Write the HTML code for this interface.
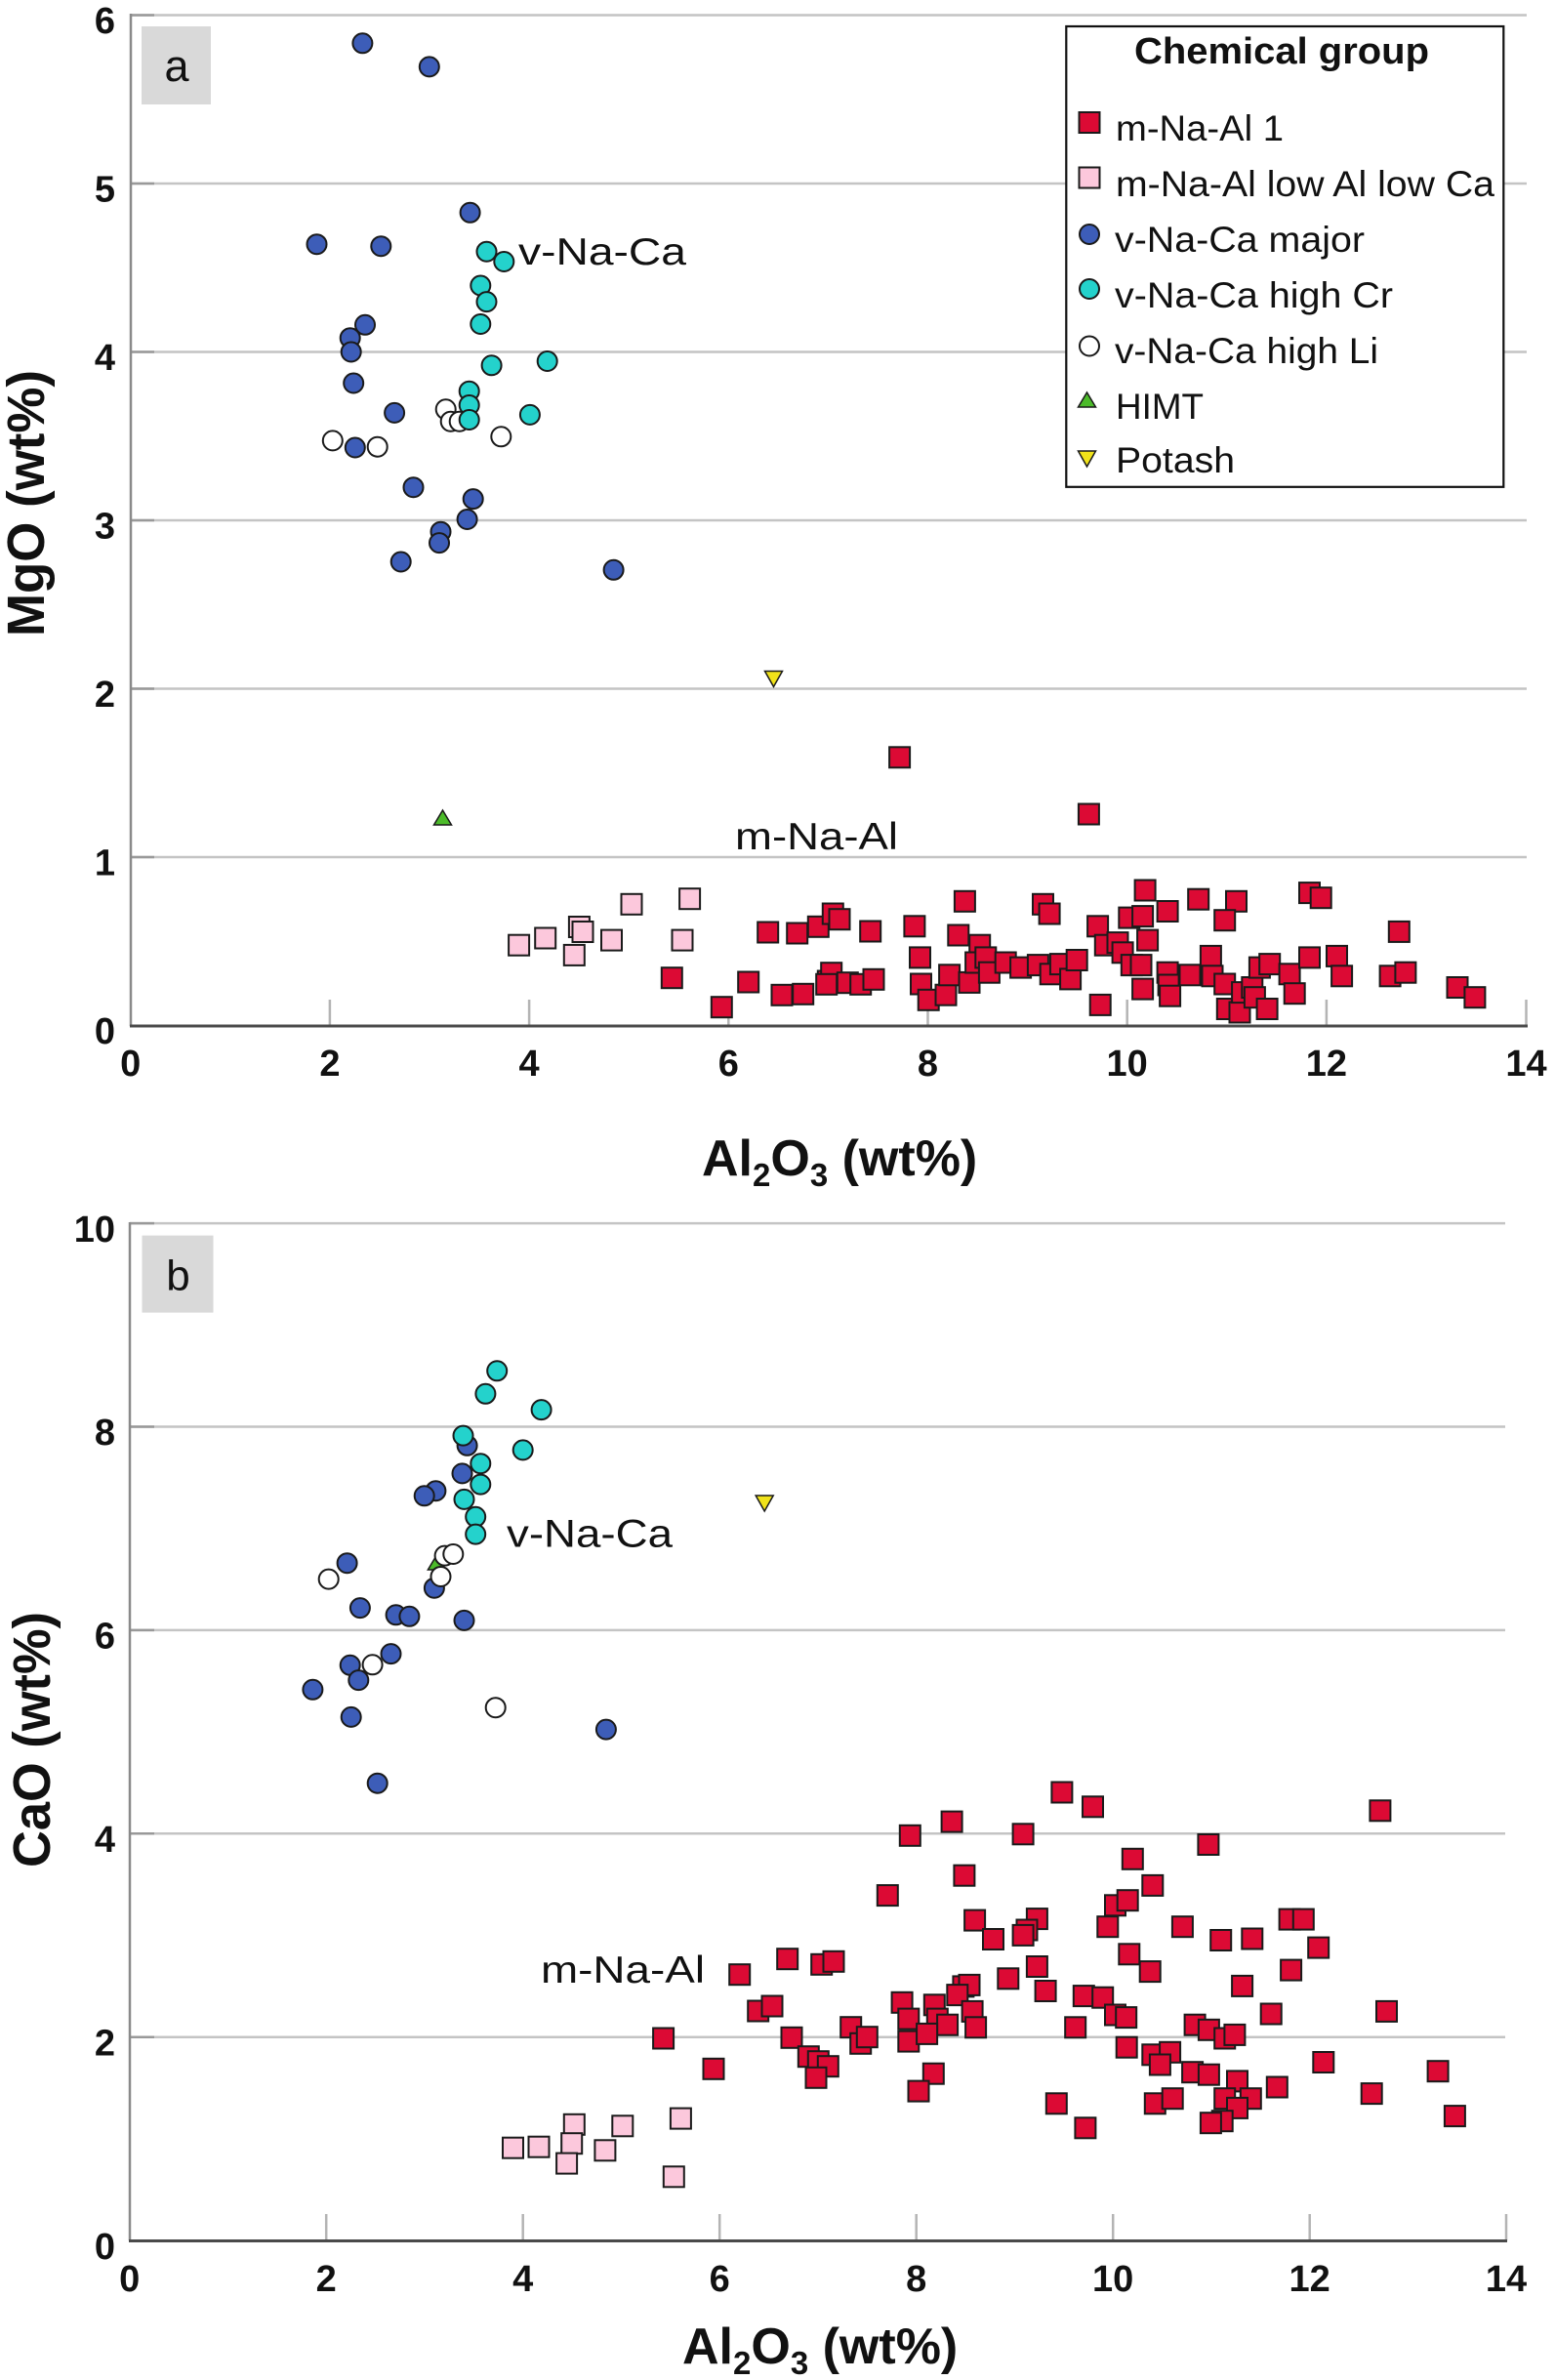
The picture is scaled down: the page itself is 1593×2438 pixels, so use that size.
<!DOCTYPE html>
<html><head><meta charset="utf-8"><style>
html,body{margin:0;padding:0;background:#fff;}
svg{display:block;}
text{font-family:"Liberation Sans",Arial,sans-serif;fill:#111;}
.tk{font-size:38px;font-weight:bold;}
</style></head><body>
<svg width="1593" height="2438" viewBox="0 0 1593 2438" xmlns="http://www.w3.org/2000/svg">
<defs>
<rect id="sqR" x="-10.5" y="-10.5" width="21" height="21" fill="#dc0a34" stroke="#1a1a1a" stroke-width="2"/>
<rect id="sqP" x="-10.5" y="-10.5" width="21" height="21" fill="#fcc8dc" stroke="#1a1a1a" stroke-width="2"/>
<circle id="cB" r="10" fill="#3d5db8" stroke="#1a1a1a" stroke-width="2"/>
<circle id="cC" r="10" fill="#24d2cc" stroke="#1a1a1a" stroke-width="2"/>
<circle id="cW" r="10" fill="#ffffff" stroke="#1a1a1a" stroke-width="2"/>
<polygon id="tG" points="0,-8 9,7 -9,7" fill="#4cbb2a" stroke="#1a1a1a" stroke-width="1.5"/>
<polygon id="tY" points="-9,-8 9,-8 0,8" fill="#f0e21a" stroke="#1a1a1a" stroke-width="1.5"/>
</defs>

<!-- ================= PANEL A ================= -->
<g stroke="#c4c4c4" stroke-width="2.5">
<line x1="134" y1="15.5" x2="1564" y2="15.5"/>
<line x1="134" y1="188" x2="1564" y2="188"/>
<line x1="134" y1="360.5" x2="1564" y2="360.5"/>
<line x1="134" y1="533" x2="1564" y2="533"/>
<line x1="134" y1="705.5" x2="1564" y2="705.5"/>
<line x1="134" y1="878" x2="1564" y2="878"/>
</g>
<g stroke="#b4b4b4" stroke-width="2.5">
<line x1="337.9" y1="1024" x2="337.9" y2="1051"/>
<line x1="542.1" y1="1024" x2="542.1" y2="1051"/>
<line x1="746.3" y1="1024" x2="746.3" y2="1051"/>
<line x1="950.5" y1="1024" x2="950.5" y2="1051"/>
<line x1="1154.7" y1="1024" x2="1154.7" y2="1051"/>
<line x1="1358.9" y1="1024" x2="1358.9" y2="1051"/>
<line x1="1563.5" y1="1024" x2="1563.5" y2="1051"/>
</g>
<g stroke="#999" stroke-width="2.5">
<line x1="134" y1="15.5" x2="158" y2="15.5"/>
<line x1="134" y1="188" x2="158" y2="188"/>
<line x1="134" y1="360.5" x2="158" y2="360.5"/>
<line x1="134" y1="533" x2="158" y2="533"/>
<line x1="134" y1="705.5" x2="158" y2="705.5"/>
<line x1="134" y1="878" x2="158" y2="878"/>
</g>
<line x1="134" y1="14" x2="134" y2="1051" stroke="#8a8a8a" stroke-width="2.5"/>
<line x1="133" y1="1051" x2="1565" y2="1051" stroke="#4a4a4a" stroke-width="3"/>

<rect x="145" y="27" width="71" height="80" fill="#d9d9d9"/>
<text x="181" y="83" font-size="45" text-anchor="middle">a</text>

<g class="tk" text-anchor="end">
<text x="118" y="34" class="tk">6</text>
<text x="118" y="206.5" class="tk">5</text>
<text x="118" y="379" class="tk">4</text>
<text x="118" y="551.5" class="tk">3</text>
<text x="118" y="724" class="tk">2</text>
<text x="118" y="896.5" class="tk">1</text>
<text x="118" y="1069" class="tk">0</text>
</g>
<g text-anchor="middle">
<text x="133.7" y="1102" class="tk">0</text>
<text x="337.9" y="1102" class="tk">2</text>
<text x="542.1" y="1102" class="tk">4</text>
<text x="746.3" y="1102" class="tk">6</text>
<text x="950.5" y="1102" class="tk">8</text>
<text x="1154.7" y="1102" class="tk">10</text>
<text x="1358.9" y="1102" class="tk">12</text>
<text x="1563.5" y="1102" class="tk">14</text>
</g>

<text x="719" y="1204" font-size="52" font-weight="bold">Al<tspan font-size="33" dy="11">2</tspan><tspan dy="-11">O</tspan><tspan font-size="33" dy="11">3</tspan><tspan dy="-11"> (wt%)</tspan></text>
<text transform="translate(45,515.5) rotate(-90)" text-anchor="middle" font-size="54" font-weight="bold" textLength="273" lengthAdjust="spacingAndGlyphs">MgO (wt%)</text>

<text x="531" y="271" font-size="39" textLength="172" lengthAdjust="spacingAndGlyphs">v-Na-Ca</text>
<text x="753" y="870" font-size="39" textLength="167" lengthAdjust="spacingAndGlyphs">m-Na-Al</text>

<!-- pink a -->
<use href="#sqP" x="531.6" y="968.2"/><use href="#sqP" x="558.7" y="961"/><use href="#sqP" x="593.4" y="949.5"/><use href="#sqP" x="597" y="954.5"/><use href="#sqP" x="588.3" y="978.4"/><use href="#sqP" x="626.5" y="963.1"/><use href="#sqP" x="647" y="926.3"/><use href="#sqP" x="706.6" y="920.7"/><use href="#sqP" x="699" y="963.1"/>
<!-- red a -->
<use href="#sqR" x="921.6" y="775.8"/><use href="#sqR" x="1115.4" y="834"/>
<use href="#sqR" x="688.3" y="1001.7"/><use href="#sqR" x="739.3" y="1031.7"/><use href="#sqR" x="766.7" y="1006"/><use href="#sqR" x="786.7" y="955"/>
<use href="#sqR" x="816.7" y="956"/><use href="#sqR" x="838.3" y="949.3"/><use href="#sqR" x="853.3" y="936"/><use href="#sqR" x="860" y="941.7"/><use href="#sqR" x="891.7" y="954"/>
<use href="#sqR" x="936.9" y="948.8"/><use href="#sqR" x="988.4" y="923.3"/><use href="#sqR" x="981.8" y="958"/><use href="#sqR" x="1068.5" y="926.3"/><use href="#sqR" x="1075.1" y="936"/><use href="#sqR" x="1124.6" y="948.8"/><use href="#sqR" x="1173.1" y="912"/><use href="#sqR" x="1156.8" y="940.1"/><use href="#sqR" x="1170.6" y="938.6"/><use href="#sqR" x="1196.1" y="933.5"/><use href="#sqR" x="1175.6" y="963.1"/><use href="#sqR" x="1227.7" y="921.2"/><use href="#sqR" x="1266.5" y="923.3"/><use href="#sqR" x="1254.7" y="942.7"/><use href="#sqR" x="1341.5" y="914.6"/><use href="#sqR" x="1353.2" y="919.7"/><use href="#sqR" x="1433.3" y="954.4"/>
<use href="#sqR" x="801" y="1019.3"/><use href="#sqR" x="822.7" y="1018.3"/><use href="#sqR" x="848.3" y="1005"/><use href="#sqR" x="851.7" y="996.7"/><use href="#sqR" x="846.7" y="1008.3"/><use href="#sqR" x="868.3" y="1006.7"/><use href="#sqR" x="881.7" y="1008.3"/><use href="#sqR" x="895" y="1003.3"/>
<use href="#sqR" x="942.5" y="980.9"/><use href="#sqR" x="943.5" y="1008"/><use href="#sqR" x="951.2" y="1024.3"/><use href="#sqR" x="969" y="1019.2"/><use href="#sqR" x="972.6" y="998.8"/><use href="#sqR" x="993" y="1006.4"/><use href="#sqR" x="1003.7" y="968.2"/><use href="#sqR" x="999.6" y="986"/><use href="#sqR" x="1009.8" y="980.9"/><use href="#sqR" x="1013.4" y="996.2"/><use href="#sqR" x="1030.2" y="986"/><use href="#sqR" x="1045.6" y="991.1"/><use href="#sqR" x="1063.4" y="988.6"/><use href="#sqR" x="1076.2" y="997.8"/><use href="#sqR" x="1086.4" y="987.6"/><use href="#sqR" x="1096.6" y="1002.9"/><use href="#sqR" x="1103.2" y="983.5"/><use href="#sqR" x="1132.3" y="968.2"/><use href="#sqR" x="1145" y="965.6"/><use href="#sqR" x="1150.1" y="975.8"/><use href="#sqR" x="1159.3" y="988.6"/><use href="#sqR" x="1169" y="988.6"/><use href="#sqR" x="1127.2" y="1029.4"/><use href="#sqR" x="1170.6" y="1013.1"/><use href="#sqR" x="1196.1" y="996.2"/><use href="#sqR" x="1197.1" y="1009"/><use href="#sqR" x="1198.6" y="1020.2"/><use href="#sqR" x="1219" y="998.8"/><use href="#sqR" x="1240.4" y="979.4"/><use href="#sqR" x="1242" y="999.8"/><use href="#sqR" x="1254.7" y="1008"/><use href="#sqR" x="1257.3" y="1033.5"/><use href="#sqR" x="1270" y="1037"/><use href="#sqR" x="1272.6" y="1016.6"/><use href="#sqR" x="1282.8" y="1011.5"/><use href="#sqR" x="1285.4" y="1021.7"/><use href="#sqR" x="1298.1" y="1033.5"/><use href="#sqR" x="1290.4" y="991.1"/><use href="#sqR" x="1300.7" y="987.6"/><use href="#sqR" x="1321.1" y="997.8"/><use href="#sqR" x="1326.2" y="1017.7"/><use href="#sqR" x="1341.5" y="980.9"/><use href="#sqR" x="1369.5" y="979.4"/><use href="#sqR" x="1374.6" y="999.8"/><use href="#sqR" x="1424.1" y="999.8"/><use href="#sqR" x="1439.9" y="996.2"/><use href="#sqR" x="1493" y="1011.5"/><use href="#sqR" x="1510.9" y="1021.7"/>
<!-- white a -->
<use href="#cW" x="340.8" y="451.4"/><use href="#cW" x="386.7" y="457.7"/><use href="#cW" x="456.7" y="419.3"/><use href="#cW" x="461.7" y="431.7"/><use href="#cW" x="470.7" y="431.7"/><use href="#cW" x="513.3" y="447.3"/>
<!-- blue a -->
<use href="#cB" x="371.4" y="44.3"/><use href="#cB" x="439.8" y="68.4"/><use href="#cB" x="481.6" y="217.8"/><use href="#cB" x="324.5" y="250.2"/><use href="#cB" x="390.3" y="252.2"/><use href="#cB" x="374" y="332.8"/><use href="#cB" x="358.7" y="346.2"/><use href="#cB" x="359.7" y="360.5"/><use href="#cB" x="362.2" y="392.5"/><use href="#cB" x="404.1" y="422.9"/><use href="#cB" x="363.8" y="458.5"/><use href="#cB" x="423.5" y="499.2"/><use href="#cB" x="484.7" y="511.1"/><use href="#cB" x="478.6" y="532"/><use href="#cB" x="451.5" y="544.7"/><use href="#cB" x="450" y="556.1"/><use href="#cB" x="410.7" y="575.5"/><use href="#cB" x="628.6" y="583.8"/>
<!-- cyan a -->
<use href="#cC" x="498.5" y="257.7"/><use href="#cC" x="516.3" y="268"/><use href="#cC" x="492.3" y="292.5"/><use href="#cC" x="498.5" y="309.1"/><use href="#cC" x="492.3" y="332"/><use href="#cC" x="503.6" y="374.3"/><use href="#cC" x="560.7" y="370"/><use href="#cC" x="480.7" y="400.7"/><use href="#cC" x="480.7" y="415"/><use href="#cC" x="480.7" y="430"/><use href="#cC" x="542.9" y="424.9"/>
<use href="#tG" x="453.5" y="838"/>
<use href="#tY" x="792.5" y="695.5"/>

<!-- legend -->
<rect x="1092.3" y="27" width="448" height="471.8" fill="#fff" stroke="#111" stroke-width="2.2"/>
<text x="1162" y="65" font-size="38" font-weight="bold" textLength="302" lengthAdjust="spacingAndGlyphs">Chemical group</text>
<use href="#sqR" x="1116" y="125.5"/>
<use href="#sqP" x="1116" y="182"/>
<use href="#cB" x="1116" y="240"/>
<use href="#cC" x="1116" y="296"/>
<use href="#cW" x="1116" y="354.5"/>
<use href="#tG" x="1113.5" y="410"/>
<use href="#tY" x="1113.5" y="470"/>
<g font-size="37">
<text x="1143" y="144" textLength="172" lengthAdjust="spacingAndGlyphs">m-Na-Al 1</text>
<text x="1143" y="201" textLength="388" lengthAdjust="spacingAndGlyphs">m-Na-Al low Al low Ca</text>
<text x="1142" y="258" textLength="256" lengthAdjust="spacingAndGlyphs">v-Na-Ca major</text>
<text x="1142" y="315" textLength="285" lengthAdjust="spacingAndGlyphs">v-Na-Ca high Cr</text>
<text x="1142" y="372" textLength="270" lengthAdjust="spacingAndGlyphs">v-Na-Ca high Li</text>
<text x="1143" y="429" textLength="90" lengthAdjust="spacingAndGlyphs">HIMT</text>
<text x="1143" y="484" textLength="122" lengthAdjust="spacingAndGlyphs">Potash</text>
</g>

<!-- ================= PANEL B ================= -->
<g stroke="#c4c4c4" stroke-width="2.5">
<line x1="133" y1="1253.1" x2="1542" y2="1253.1"/>
<line x1="133" y1="1461.5" x2="1542" y2="1461.5"/>
<line x1="133" y1="1669.9" x2="1542" y2="1669.9"/>
<line x1="133" y1="1878.3" x2="1542" y2="1878.3"/>
<line x1="133" y1="2086.7" x2="1542" y2="2086.7"/>
</g>
<g stroke="#b4b4b4" stroke-width="2.5">
<line x1="334.2" y1="2268" x2="334.2" y2="2295"/>
<line x1="535.7" y1="2268" x2="535.7" y2="2295"/>
<line x1="737.2" y1="2268" x2="737.2" y2="2295"/>
<line x1="938.7" y1="2268" x2="938.7" y2="2295"/>
<line x1="1140.2" y1="2268" x2="1140.2" y2="2295"/>
<line x1="1341.7" y1="2268" x2="1341.7" y2="2295"/>
<line x1="1543" y1="2268" x2="1543" y2="2295"/>
</g>
<g stroke="#999" stroke-width="2.5">
<line x1="133" y1="1253.1" x2="158" y2="1253.1"/>
<line x1="133" y1="1461.5" x2="158" y2="1461.5"/>
<line x1="133" y1="1669.9" x2="158" y2="1669.9"/>
<line x1="133" y1="1878.3" x2="158" y2="1878.3"/>
<line x1="133" y1="2086.7" x2="158" y2="2086.7"/>
</g>
<line x1="133" y1="1252" x2="133" y2="2295" stroke="#8a8a8a" stroke-width="2.5"/>
<line x1="132" y1="2295.5" x2="1544" y2="2295.5" stroke="#4a4a4a" stroke-width="3"/>

<rect x="145.5" y="1265.6" width="73" height="79" fill="#d9d9d9"/>
<text x="182.5" y="1321.5" font-size="44" text-anchor="middle">b</text>

<g text-anchor="end">
<text x="118" y="1272" class="tk">10</text>
<text x="118" y="1480" class="tk">8</text>
<text x="118" y="1688.5" class="tk">6</text>
<text x="118" y="1897" class="tk">4</text>
<text x="118" y="2105.5" class="tk">2</text>
<text x="118" y="2314" class="tk">0</text>
</g>
<g text-anchor="middle">
<text x="132.7" y="2347" class="tk">0</text>
<text x="334.2" y="2347" class="tk">2</text>
<text x="535.7" y="2347" class="tk">4</text>
<text x="737.2" y="2347" class="tk">6</text>
<text x="938.7" y="2347" class="tk">8</text>
<text x="1140.2" y="2347" class="tk">10</text>
<text x="1341.7" y="2347" class="tk">12</text>
<text x="1543" y="2347" class="tk">14</text>
</g>

<text x="699" y="2421" font-size="52" font-weight="bold">Al<tspan font-size="33" dy="11">2</tspan><tspan dy="-11">O</tspan><tspan font-size="33" dy="11">3</tspan><tspan dy="-11"> (wt%)</tspan></text>
<text transform="translate(51,1782) rotate(-90)" text-anchor="middle" font-size="54" font-weight="bold" textLength="262" lengthAdjust="spacingAndGlyphs">CaO (wt%)</text>

<text x="519" y="1584.5" font-size="40" textLength="170" lengthAdjust="spacingAndGlyphs">v-Na-Ca</text>
<text x="554" y="2031" font-size="39" textLength="168" lengthAdjust="spacingAndGlyphs">m-Na-Al</text>

<!-- pink b -->
<use href="#sqP" x="525.5" y="2200.2"/><use href="#sqP" x="552" y="2199.2"/><use href="#sqP" x="588.3" y="2176.3"/><use href="#sqP" x="585.7" y="2195.7"/><use href="#sqP" x="580.6" y="2216.1"/><use href="#sqP" x="619.9" y="2202.8"/><use href="#sqP" x="637.8" y="2177.8"/><use href="#sqP" x="697.4" y="2170.1"/><use href="#sqP" x="690.3" y="2229.8"/>
<!-- red b -->
<use href="#sqR" x="679.6" y="2088"/><use href="#sqR" x="731" y="2119.3"/><use href="#sqR" x="757.7" y="2022.7"/><use href="#sqR" x="776.7" y="2060"/><use href="#sqR" x="791" y="2055"/><use href="#sqR" x="806.7" y="2006.7"/><use href="#sqR" x="841.7" y="2012.3"/><use href="#sqR" x="854" y="2009.3"/><use href="#sqR" x="811" y="2087.3"/><use href="#sqR" x="828.3" y="2106.7"/><use href="#sqR" x="838.3" y="2111.7"/><use href="#sqR" x="848.3" y="2116.7"/><use href="#sqR" x="836" y="2128.3"/><use href="#sqR" x="871.7" y="2076.7"/><use href="#sqR" x="881.7" y="2093.3"/><use href="#sqR" x="888.3" y="2086.7"/><use href="#sqR" x="924.1" y="2051.3"/>
<use href="#sqR" x="1087.9" y="1836"/><use href="#sqR" x="1119.5" y="1850.8"/><use href="#sqR" x="1413.9" y="1854.8"/><use href="#sqR" x="975.1" y="1866.1"/><use href="#sqR" x="932.3" y="1880.3"/><use href="#sqR" x="1048.1" y="1878.8"/><use href="#sqR" x="1237.9" y="1889.5"/><use href="#sqR" x="1160.3" y="1904.3"/><use href="#sqR" x="987.9" y="1921.2"/><use href="#sqR" x="1180.8" y="1931.4"/><use href="#sqR" x="909.3" y="1941.6"/><use href="#sqR" x="1142.5" y="1951.8"/><use href="#sqR" x="1155.2" y="1946.7"/><use href="#sqR" x="998.6" y="1967.1"/><use href="#sqR" x="1062.4" y="1965.6"/><use href="#sqR" x="1052" y="1977"/><use href="#sqR" x="1048.1" y="1982.4"/><use href="#sqR" x="1017.5" y="1986.5"/><use href="#sqR" x="1134.8" y="1973.7"/><use href="#sqR" x="1211.4" y="1973.7"/><use href="#sqR" x="1321.1" y="1966.1"/><use href="#sqR" x="1335.3" y="1966.1"/><use href="#sqR" x="1250.7" y="1987.5"/><use href="#sqR" x="1282.8" y="1986"/><use href="#sqR" x="1350.7" y="1995.1"/><use href="#sqR" x="1156.8" y="2001.8"/><use href="#sqR" x="1178.2" y="2019.6"/><use href="#sqR" x="1062.4" y="2014.5"/><use href="#sqR" x="1322.6" y="2018.1"/><use href="#sqR" x="1032.8" y="2026.8"/><use href="#sqR" x="1071.1" y="2039.5"/><use href="#sqR" x="986.9" y="2034.9"/><use href="#sqR" x="993" y="2033.4"/><use href="#sqR" x="980.8" y="2043.6"/><use href="#sqR" x="1272.6" y="2034.4"/><use href="#sqR" x="1110.3" y="2044.6"/><use href="#sqR" x="1129.7" y="2046.2"/><use href="#sqR" x="1420.5" y="2060.4"/><use href="#sqR" x="1302.2" y="2063"/><use href="#sqR" x="957.3" y="2053.8"/><use href="#sqR" x="930.8" y="2068.1"/><use href="#sqR" x="960.3" y="2068.1"/><use href="#sqR" x="970.6" y="2074.2"/><use href="#sqR" x="996.1" y="2060.4"/><use href="#sqR" x="999.6" y="2076.8"/><use href="#sqR" x="930.8" y="2091.1"/><use href="#sqR" x="949.6" y="2083.4"/><use href="#sqR" x="956.3" y="2124.2"/><use href="#sqR" x="941" y="2142.1"/><use href="#sqR" x="1101.7" y="2076.8"/><use href="#sqR" x="1142.5" y="2064"/><use href="#sqR" x="1153.7" y="2066.6"/><use href="#sqR" x="1154.2" y="2097.2"/><use href="#sqR" x="1180.8" y="2104.8"/><use href="#sqR" x="1198.6" y="2102.3"/><use href="#sqR" x="1188.4" y="2115"/><use href="#sqR" x="1224.1" y="2074.2"/><use href="#sqR" x="1238.4" y="2079.3"/><use href="#sqR" x="1254.7" y="2088"/><use href="#sqR" x="1264.9" y="2084.4"/><use href="#sqR" x="1221.6" y="2122.7"/><use href="#sqR" x="1238.4" y="2125.2"/><use href="#sqR" x="1267.5" y="2131.9"/><use href="#sqR" x="1281.3" y="2149.7"/><use href="#sqR" x="1254.7" y="2149.7"/><use href="#sqR" x="1267.5" y="2159.4"/><use href="#sqR" x="1252.2" y="2172.7"/><use href="#sqR" x="1240.4" y="2174.7"/><use href="#sqR" x="1308.3" y="2138"/><use href="#sqR" x="1355.8" y="2112.5"/><use href="#sqR" x="1405.2" y="2144.6"/><use href="#sqR" x="1473.1" y="2121.7"/><use href="#sqR" x="1490.4" y="2167.6"/><use href="#sqR" x="1082.3" y="2154.8"/><use href="#sqR" x="1111.9" y="2179.8"/><use href="#sqR" x="1183.3" y="2154.8"/><use href="#sqR" x="1201.2" y="2149.7"/>
<!-- blue b -->
<use href="#cB" x="478.6" y="1480.8"/><use href="#cB" x="473.5" y="1509.4"/><use href="#cB" x="446.4" y="1527.2"/><use href="#cB" x="434.7" y="1532.3"/><use href="#cB" x="355.6" y="1601.2"/><use href="#cB" x="444.9" y="1626.7"/><use href="#cB" x="368.9" y="1647.1"/><use href="#cB" x="405.6" y="1654.3"/><use href="#cB" x="419.4" y="1655.8"/><use href="#cB" x="475.5" y="1659.9"/><use href="#cB" x="400.5" y="1694.1"/><use href="#cB" x="358.7" y="1705.8"/><use href="#cB" x="367.3" y="1721.1"/><use href="#cB" x="320.4" y="1730.8"/><use href="#cB" x="359.7" y="1758.9"/><use href="#cB" x="620.9" y="1771.6"/><use href="#cB" x="386.7" y="1826.7"/>
<!-- green b -->
<use href="#tG" x="447.4" y="1601"/>
<!-- white b -->
<use href="#cW" x="336.7" y="1617.6"/><use href="#cW" x="455.6" y="1593.6"/><use href="#cW" x="464.3" y="1592"/><use href="#cW" x="451.5" y="1615"/><use href="#cW" x="381.6" y="1705.3"/><use href="#cW" x="507.7" y="1749.2"/>
<!-- cyan b -->
<use href="#cC" x="509.2" y="1404.3"/><use href="#cC" x="497.4" y="1427.8"/><use href="#cC" x="554.6" y="1444.1"/><use href="#cC" x="474.5" y="1470.6"/><use href="#cC" x="535.7" y="1485.4"/><use href="#cC" x="492.3" y="1499.2"/><use href="#cC" x="492.3" y="1520.6"/><use href="#cC" x="475.5" y="1535.9"/><use href="#cC" x="487.2" y="1553.8"/><use href="#cC" x="487.2" y="1571.6"/>
<use href="#tY" x="783.2" y="1540"/>
</svg>
</body></html>
